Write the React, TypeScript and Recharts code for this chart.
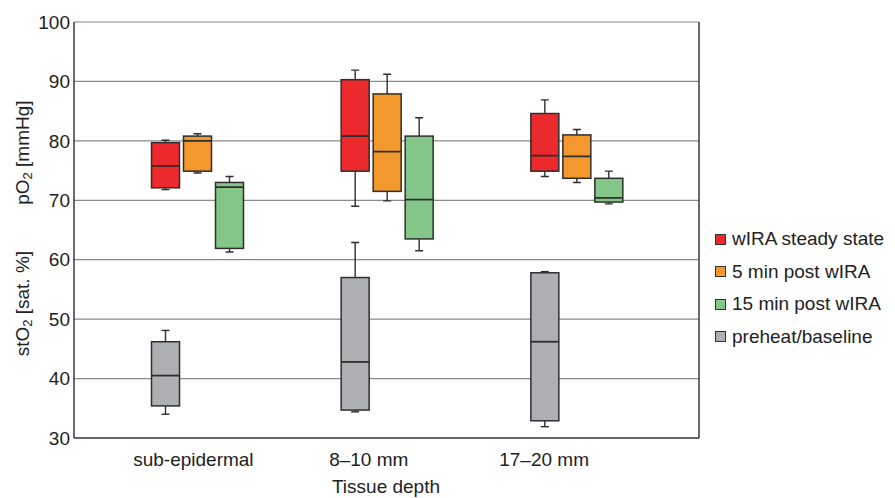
import React from 'react';
import { ComposedChart, Bar, XAxis, YAxis, CartesianGrid } from 'recharts';

// Tissue depth categories
const categories = ['sub-epidermal', '8–10 mm', '17–20 mm'];

// five-number summaries per category: [min, q1, median, q3, max]
const wiraSteady = [
  [71.8, 72.1, 75.8, 79.7, 80.1],
  [69.0, 74.9, 80.8, 90.3, 91.9],
  [74.0, 74.9, 77.5, 84.6, 86.9],
];
const post5 = [
  [74.6, 74.9, 80.0, 80.8, 81.2],
  [69.9, 71.5, 78.2, 87.9, 91.2],
  [73.0, 73.7, 77.4, 81.0, 81.9],
];
const post15 = [
  [61.3, 61.9, 72.2, 73.0, 74.0],
  [61.5, 63.5, 70.1, 80.8, 83.9],
  [69.4, 69.7, 70.4, 73.7, 74.9],
];
const baseline = [
  [34.0, 35.4, 40.5, 46.2, 48.1],
  [34.4, 34.7, 42.8, 57.0, 62.9],
  [31.9, 32.9, 46.2, 57.8, 58.0],
];

const yTicks = [30, 40, 50, 60, 70, 80, 90, 100];

const seriesNames = ['wIRA steady state', '5 min post wIRA', '15 min post wIRA', 'preheat/baseline'];
const seriesColors = ['#EC2A2E', '#F3982C', '#84C688', '#AEAFB2'];

const data = categories.map((cat, i) => ({
  cat,
  s0: wiraSteady[i],
  s1: post5[i],
  s2: post15[i],
  s3: baseline[i],
  r0: [wiraSteady[i][0], wiraSteady[i][4]],
  r1: [post5[i][0], post5[i][4]],
  r2: [post15[i][0], post15[i][4]],
  r3: [baseline[i][0], baseline[i][4]],
}));

const FONT = '"Liberation Sans", Arial, Helvetica, sans-serif';
const EDGE = '#2e2e2e';

const makeBox = (key: string, fill: string) => (props: any) => {
  const { x, y, width, height, payload } = props;
  if (!payload || x == null || y == null) return <g />;
  const stats = payload[key] as number[];
  const [mn, q1, md, q3, mx] = stats;
  const top = Math.min(y, y + height);
  const bottom = Math.max(y, y + height);
  const py = (v: number) => bottom - ((v - mn) / (mx - mn)) * (bottom - top);
  const cx = x + width / 2;
  const cap = 4;
  return (
    <g>
      <line x1={cx} x2={cx} y1={py(mx)} y2={py(q3)} stroke={EDGE} strokeWidth={1.4} />
      <line x1={cx} x2={cx} y1={py(q1)} y2={py(mn)} stroke={EDGE} strokeWidth={1.4} />
      <line x1={cx - cap} x2={cx + cap} y1={py(mx)} y2={py(mx)} stroke={EDGE} strokeWidth={1.4} />
      <line x1={cx - cap} x2={cx + cap} y1={py(mn)} y2={py(mn)} stroke={EDGE} strokeWidth={1.4} />
      <rect x={x} y={py(q3)} width={width} height={py(q1) - py(q3)} fill={fill} stroke={EDGE} strokeWidth={1.5} />
      <line x1={x} x2={x + width} y1={py(md)} y2={py(md)} stroke={EDGE} strokeWidth={1.8} />
    </g>
  );
};

const YLabel = (props: any) => {
  const vb = props.viewBox || { x: 0, y: 22, width: 74, height: 416 };
  const cx = 22;
  const y1 = vb.y + vb.height * 0.314;
  const y2 = vb.y + vb.height * 0.677;
  return (
    <g fontFamily={FONT} fontSize={19} fill="#222">
      <text x={cx} y={y1} transform={`rotate(-90 ${cx} ${y1})`} textAnchor="middle" dominantBaseline="central">
        <tspan>pO</tspan>
        <tspan fontSize={13} dy={5}>2</tspan>
        <tspan dy={-5}> [mmHg]</tspan>
      </text>
      <text x={cx} y={y2} transform={`rotate(-90 ${cx} ${y2})`} textAnchor="middle" dominantBaseline="central">
        <tspan>stO</tspan>
        <tspan fontSize={13} dy={5}>2</tspan>
        <tspan dy={-5}> [sat. %]</tspan>
      </text>
    </g>
  );
};

const XLabel = (props: any) => {
  const vb = props.viewBox || { x: 74, y: 439, width: 625, height: 59 };
  return (
    <text x={386} y={vb.y + 54} textAnchor="middle" fontFamily={FONT} fontSize={19} fill="#222">
      Tissue depth
    </text>
  );
};

export default function App() {
  return (
    <div style={{ position: 'absolute', left: 0, top: 0, width: 895, height: 498, background: '#fff' }}>
      <ComposedChart
        width={895}
        height={498}
        data={data}
        margin={{ top: 22, right: 195, bottom: 0, left: 0 }}
        barSize={28}
        barGap={4}
      >
        <CartesianGrid xAxisId="a" vertical={false} stroke="#8a8a8a" strokeWidth={1.2} />
        <XAxis
          xAxisId="a"
          dataKey="cat"
          height={1}
          tick={false}
          tickLine={false}
          axisLine={{ stroke: '#444', strokeWidth: 1.6 }}
          padding={{ left: 28.5, right: 27.5 }}
        />
        <XAxis
          xAxisId="l"
          dataKey="cat"
          height={59}
          axisLine={false}
          tickLine={false}
          tickSize={0}
          tickMargin={14}
          interval={0}
          padding={{ left: 31.75, right: 67.25 }}
          tick={{ fontFamily: FONT, fontSize: 19, fill: '#222' }}
          label={<XLabel />}
        />
        <XAxis
          xAxisId="z"
          dataKey="cat"
          hide
          padding={{ left: 28.5, right: 27.5 }}
        />
        <YAxis
          domain={[30, 100]}
          ticks={yTicks}
          allowDataOverflow
          width={74}
          tickLine={false}
          tickSize={0}
          tickMargin={4}
          axisLine={{ stroke: '#444', strokeWidth: 1.6 }}
          tick={{ fontFamily: FONT, fontSize: 19, fill: '#222' }}
          label={<YLabel />}
        />
        <YAxis
          yAxisId="r"
          orientation="right"
          domain={[30, 100]}
          ticks={yTicks}
          width={1}
          tick={false}
          tickLine={false}
          axisLine={{ stroke: '#444', strokeWidth: 1.6 }}
        />
        <Bar xAxisId="a" dataKey="r0" fill={seriesColors[0]} shape={makeBox('s0', seriesColors[0])} isAnimationActive={false} />
        <Bar xAxisId="a" dataKey="r1" fill={seriesColors[1]} shape={makeBox('s1', seriesColors[1])} isAnimationActive={false} />
        <Bar xAxisId="a" dataKey="r2" fill={seriesColors[2]} shape={makeBox('s2', seriesColors[2])} isAnimationActive={false} />
        <Bar xAxisId="z" dataKey="r3" fill={seriesColors[3]} shape={makeBox('s3', seriesColors[3])} isAnimationActive={false} />
        <Bar xAxisId="z" dataKey="pad1" fill="none" isAnimationActive={false} />
        <Bar xAxisId="z" dataKey="pad2" fill="none" isAnimationActive={false} />
      </ComposedChart>
      <div style={{ position: 'absolute', left: 715, top: 223, fontFamily: FONT, fontSize: 19, color: '#222' }}>
        {seriesNames.map((name, i) => (
          <div key={name} style={{ display: 'flex', alignItems: 'center', height: 32.5, whiteSpace: 'nowrap' }}>
            <span
              style={{
                display: 'inline-block',
                width: 9,
                height: 9,
                background: seriesColors[i],
                border: '1px solid #333',
                marginRight: 6,
              }}
            />
            <span>{name}</span>
          </div>
        ))}
      </div>
    </div>
  );
}
